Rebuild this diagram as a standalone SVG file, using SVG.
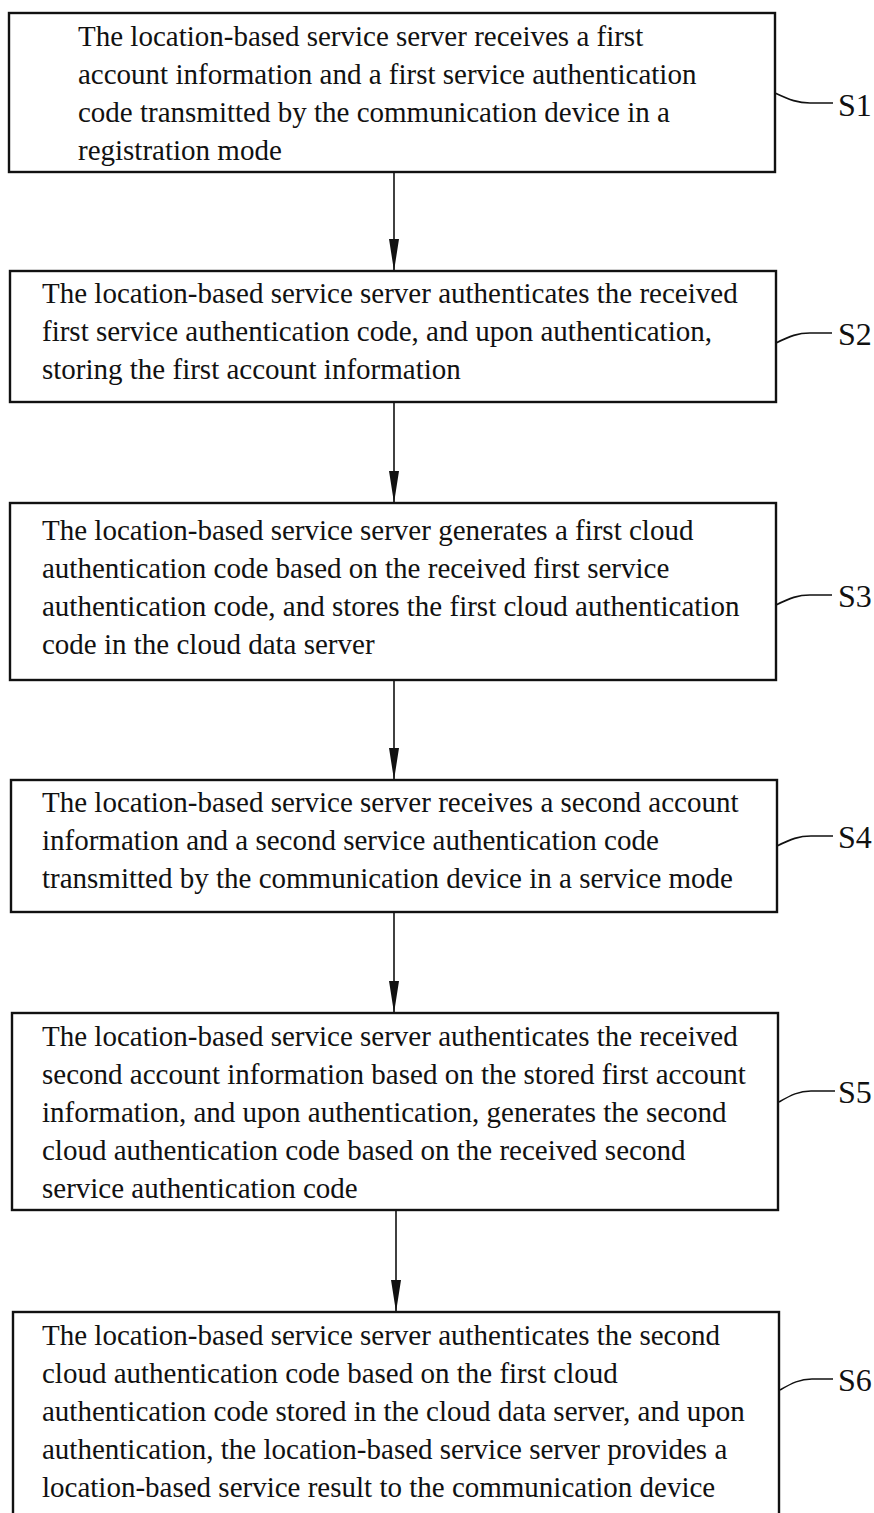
<svg xmlns="http://www.w3.org/2000/svg" width="874" height="1513" viewBox="0 0 874 1513">
<style>
.box{fill:#fff;stroke:#111;stroke-width:2.4}
.t{font-family:"Liberation Serif","Times New Roman",serif;font-size:29px;fill:#111}
.lbl{font-family:"Liberation Serif","Times New Roman",serif;font-size:32px;fill:#111}
.lead{fill:none;stroke:#111;stroke-width:1.6}
.conn{stroke:#111;stroke-width:1.6;fill:none}
</style>
<defs>
<marker id="ah" markerUnits="userSpaceOnUse" markerWidth="34" markerHeight="12" refX="32" refY="6" orient="auto" viewBox="0 0 34 12">
<path d="M0,1 L32,6 L0,11 Z" fill="#111"/>
</marker>
</defs>
<rect width="874" height="1513" fill="#fff"/>
<g id="connectors">
<line class="conn" x1="394" y1="172" x2="394" y2="271" marker-end="url(#ah)"/>
<line class="conn" x1="394" y1="402" x2="394" y2="503" marker-end="url(#ah)"/>
<line class="conn" x1="394" y1="680" x2="394" y2="780" marker-end="url(#ah)"/>
<line class="conn" x1="394" y1="912" x2="394" y2="1013" marker-end="url(#ah)"/>
<line class="conn" x1="396" y1="1210" x2="396" y2="1312" marker-end="url(#ah)"/>
</g>
<g id="S1">
<rect class="box" x="9" y="13" width="766" height="159"/>
<text class="t" x="78" y="46">The location-based service server receives a first</text>
<text class="t" x="78" y="84">account information and a first service authentication</text>
<text class="t" x="78" y="122">code transmitted by the communication device in a</text>
<text class="t" x="78" y="160">registration mode</text>
<path class="lead" d="M775,93 C790,100 798,103 810,103 L833,103"/>
<text class="lbl" x="838" y="116">S1</text>
</g>
<g id="S2">
<rect class="box" x="10" y="271" width="766" height="131"/>
<text class="t" x="42" y="303">The location-based service server authenticates the received</text>
<text class="t" x="42" y="341">first service authentication code, and upon authentication,</text>
<text class="t" x="42" y="379">storing the first account information</text>
<path class="lead" d="M776,343 C790,336 798,333 810,333 L832,333"/>
<text class="lbl" x="838" y="345">S2</text>
</g>
<g id="S3">
<rect class="box" x="10" y="503" width="766" height="177"/>
<text class="t" x="42" y="540">The location-based service server generates a first cloud</text>
<text class="t" x="42" y="578">authentication code based on the received first service</text>
<text class="t" x="42" y="616">authentication code, and stores the first cloud authentication</text>
<text class="t" x="42" y="654">code in the cloud data server</text>
<path class="lead" d="M776,605 C790,598 798,595 810,595 L832,595"/>
<text class="lbl" x="838" y="607">S3</text>
</g>
<g id="S4">
<rect class="box" x="11" y="780" width="766" height="132"/>
<text class="t" x="42" y="812">The location-based service server receives a second account</text>
<text class="t" x="42" y="850">information and a second service authentication code</text>
<text class="t" x="42" y="888">transmitted by the communication device in a service mode</text>
<path class="lead" d="M777,846 C791,839 799,836 811,836 L833,836"/>
<text class="lbl" x="838" y="848">S4</text>
</g>
<g id="S5">
<rect class="box" x="12" y="1013" width="766" height="197"/>
<text class="t" x="42" y="1046">The location-based service server authenticates the received</text>
<text class="t" x="42" y="1084">second account information based on the stored first account</text>
<text class="t" x="42" y="1122">information, and upon authentication, generates the second</text>
<text class="t" x="42" y="1160">cloud authentication code based on the received second</text>
<text class="t" x="42" y="1198">service authentication code</text>
<path class="lead" d="M779,1102 C791,1095 799,1091 811,1091 L835,1091"/>
<text class="lbl" x="838" y="1103">S5</text>
</g>
<g id="S6">
<rect class="box" x="13" y="1312" width="766" height="215"/>
<text class="t" x="42" y="1345">The location-based service server authenticates the second</text>
<text class="t" x="42" y="1383">cloud authentication code based on the first cloud</text>
<text class="t" x="42" y="1421">authentication code stored in the cloud data server, and upon</text>
<text class="t" x="42" y="1459">authentication, the location-based service server provides a</text>
<text class="t" x="42" y="1497">location-based service result to the communication device</text>
<path class="lead" d="M780,1390 C792,1383 800,1379 812,1379 L833,1379"/>
<text class="lbl" x="838" y="1391">S6</text>
</g>
</svg>
